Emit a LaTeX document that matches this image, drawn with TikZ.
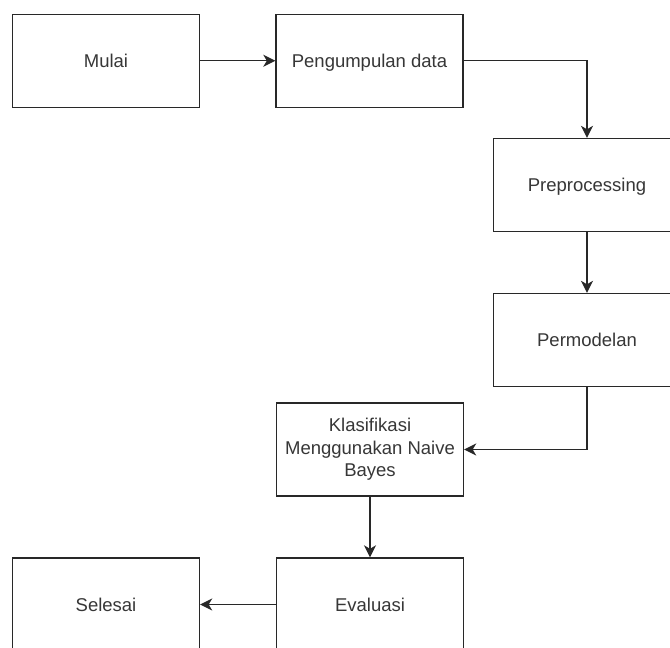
\documentclass[tikz,border=0pt]{standalone}
\usepackage{fontspec}
\setmainfont{Liberation Sans}
\usetikzlibrary{positioning,calc}
\usetikzlibrary{arrows.meta}
\definecolor{BoxLine}{RGB}{40,40,40}
\definecolor{BoxText}{RGB}{55,55,55}
\tikzset{proc/.style={rectangle,draw=BoxLine,line width=1.4pt,fill=white,minimum width=187pt,minimum height=93pt,inner sep=2pt,align=center,text=BoxText,font=\fontsize{18.5}{22.5}\selectfont}, oneline/.style={text height=13.2pt,text depth=0pt}, flow/.style={draw=BoxLine,line width=1.4pt,-{Stealth[length=12pt,width=12pt,inset=3.5pt]}}}

\begin{document}
\begin{tikzpicture}[x=1pt,y=1pt]
\useasboundingbox (0,0) rectangle (670,-648);
\coordinate (pmulai) at (106,-60.75);
\coordinate (pkumpul) at (369.5,-60.75);
\coordinate (pprepro) at (587,-185);
\coordinate (pmodel) at (587,-340);
\coordinate (pklas) at (370,-449.5);
\coordinate (peval) at (370,-604.5);
\coordinate (pselesai) at (106,-604.5);
\node[proc,oneline] (mulai) at (pmulai) {Mulai};
\node[proc,oneline] (kumpul) at (pkumpul) {Pengumpulan data};
\node[proc,oneline] (prepro) at (pprepro) {Preprocessing};
\node[proc,oneline] (model) at (pmodel) {Permodelan};
\node[proc] (klas) at (pklas) {Klasifikasi\\Menggunakan Naive\\Bayes};
\node[proc,oneline] (eval) at (peval) {Evaluasi};
\node[proc,oneline] (selesai) at (pselesai) {Selesai};
\draw[flow] (mulai.east) -- (kumpul.west);
\draw[flow] (kumpul.east) -| (prepro.north);
\draw[flow] (prepro.south) -- (model.north);
\draw[flow] (model.south) |- (klas.east);
\draw[flow] (klas.south) -- (eval.north);
\draw[flow] (eval.west) -- (selesai.east);
\end{tikzpicture}
\end{document}
